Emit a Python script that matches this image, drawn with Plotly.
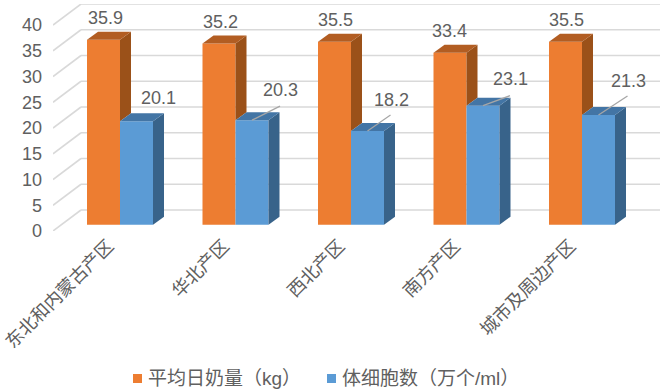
import plotly.graph_objects as go

categories = ["东北和内蒙古产区", "华北产区", "西北产区", "南方产区", "城市及周边产区"]
milk_yield = [35.9, 35.2, 35.5, 33.4, 35.5]
cell_count = [20.1, 20.3, 18.2, 23.1, 21.3]
value_ticks = [0, 5, 10, 15, 20, 25, 30, 35, 40]
series_names = ["平均日奶量（kg）", "体细胞数（万个/ml）"]

# layout constants (pixels)
W, H = 665, 390
L, R, T, B = 53, 660, 4, 231
PX_X = 115.5          # px per category
PX_Y = 5.15           # px per value unit
X0 = 120              # px of first category centre
Y0 = 224.7            # px of value 0 in the bar plane
BAR = 33 / PX_X
DX, DY = 11 / PX_X, 8 / PX_Y
BACK_Y = (Y0 - 210) / PX_Y
BACK_X = (81 - L) / PX_X
x_lo, x_hi = (L - X0) / PX_X, (R - X0) / PX_X
y_lo, y_hi = (Y0 - B) / PX_Y, (Y0 - T) / PX_Y

FONT = "Liberation Sans, Noto Sans CJK SC"
TXT = "#606060"
ORANGE, O_TOP, O_SIDE = "#ED7D31", "#B25D22", "#9B5119"
BLUE, B_TOP, B_SIDE = "#5B9BD5", "#4375A5", "#38638A"

fig = go.Figure()
shapes = []

# walls' gridlines, under the bars
for v in value_ticks:
    for x0, y0, x1, y1 in [(x_lo, v + y_lo, x_lo + BACK_X, v + BACK_Y), (x_lo + BACK_X, v + BACK_Y, x_hi, v + BACK_Y)]:
        shapes.append(dict(type="line", xref="x", yref="y", layer="below", x0=x0, y0=y0, x1=x1, y1=y1,
                           line=dict(color="#D9D9D9", width=1.6)))

def poly(xv, yv, col):
    fig.add_trace(go.Scatter(x=xv, y=yv, mode="lines", fill="toself", fillcolor=col, line=dict(width=0),
                             hoverinfo="skip", showlegend=False))

xs = list(range(len(categories)))
fig.add_trace(go.Bar(x=[i - BAR / 2 for i in xs], y=milk_yield, width=BAR, marker=dict(color=ORANGE, line=dict(width=0)),
                     name=series_names[0], showlegend=False))
fig.add_trace(go.Bar(x=[i + BAR / 2 for i in xs], y=cell_count, width=BAR, marker=dict(color=BLUE, line=dict(width=0)),
                     name=series_names[1], showlegend=False))

for i, (m, c) in enumerate(zip(milk_yield, cell_count)):
    # orange side only above the neighbouring blue bar, which hides the rest of it
    xl, xr = i - BAR, float(i)
    poly([xr, xr + DX, xr + DX, xr, xr], [c, c + DY, m + DY, m, c], O_SIDE)
    poly([xl, xr, xr + DX, xl + DX, xl], [m, m, m + DY, m + DY, m], O_TOP)
    xl, xr = float(i), i + BAR
    poly([xr, xr + DX, xr + DX, xr, xr], [0, DY, c + DY, c, 0], B_SIDE)
    poly([xl, xr, xr + DX, xl + DX, xl], [c, c, c + DY, c + DY, c], B_TOP)

# data labels (pixel shifts from the bar's top centre)
milk_shift = [(1.5, 22), (1, 21), (0.5, 21.5), (-0.5, 21.5), (0.5, 21.5)]
cell_shift = [(22, 23), (28, 30), (23.5, 31), (27, 27), (30, 34)]
leaders = [None, (28, 14), (23, 16), (27, 10), (29, 19)]
annotations = []
for i, (v, s) in enumerate(zip(milk_yield, milk_shift)):
    annotations.append(dict(x=i - BAR / 2, y=v, xref="x", yref="y", text=f"{v}", showarrow=False,
                            xshift=s[0], yshift=s[1], font=dict(family=FONT, size=18, color=TXT)))
for i, (v, s) in enumerate(zip(cell_count, cell_shift)):
    annotations.append(dict(x=i + BAR / 2, y=v, xref="x", yref="y", text=f"{v}", showarrow=False,
                            xshift=s[0], yshift=s[1], font=dict(family=FONT, size=18, color=TXT)))
lx, ly = [], []
for i, (v, d) in enumerate(zip(cell_count, leaders)):
    if d:
        lx += [i + BAR / 2, i + BAR / 2 + d[0] / PX_X, None]
        ly += [v, v + d[1] / PX_Y, None]
fig.add_trace(go.Scatter(x=lx, y=ly, mode="lines", line=dict(color="#A6A6A6", width=1.3),
                         hoverinfo="skip", showlegend=False))

# legend
swatches = [(133, ORANGE), (327, BLUE)]
for (sx, c), name in zip(swatches, series_names):
    shapes.append(dict(type="rect", xref="paper", yref="paper", layer="above",
                       x0=(sx - L) / (R - L), x1=(sx + 9 - L) / (R - L),
                       y0=(B - 383) / (B - T), y1=(B - 374) / (B - T),
                       fillcolor=c, line=dict(width=0)))
    annotations.append(dict(xref="paper", yref="paper", x=(sx + 13 - L) / (R - L), y=(B - 378.5) / (B - T),
                            xanchor="left", yanchor="middle", text=name, showarrow=False,
                            font=dict(family=FONT, size=19, color=TXT)))

fig.update_layout(
    width=W, height=H, autosize=False, margin=dict(l=L, r=W - R, t=T, b=H - B, pad=0),
    paper_bgcolor="white", plot_bgcolor="white", showlegend=False, annotations=annotations, shapes=shapes,
    xaxis=dict(range=[x_lo, x_hi], showgrid=False, zeroline=False, showline=False, ticks="", automargin=False,
               tickmode="array", tickvals=[i - 0.1 for i in xs], ticktext=categories, tickangle=-45,
               tickfont=dict(family=FONT, size=18, color=TXT)),
    yaxis=dict(range=[y_lo, y_hi], showgrid=False, zeroline=False, showline=False, ticks="", automargin=False,
               tickmode="array", tickvals=[v + y_lo for v in value_ticks], ticktext=[str(v) for v in value_ticks],
               ticklabelstandoff=10, tickfont=dict(family=FONT, size=18, color=TXT)),
)
fig.write_html("out.html", post_script="document.body.style.margin='0';", config=dict(displayModeBar=False))
